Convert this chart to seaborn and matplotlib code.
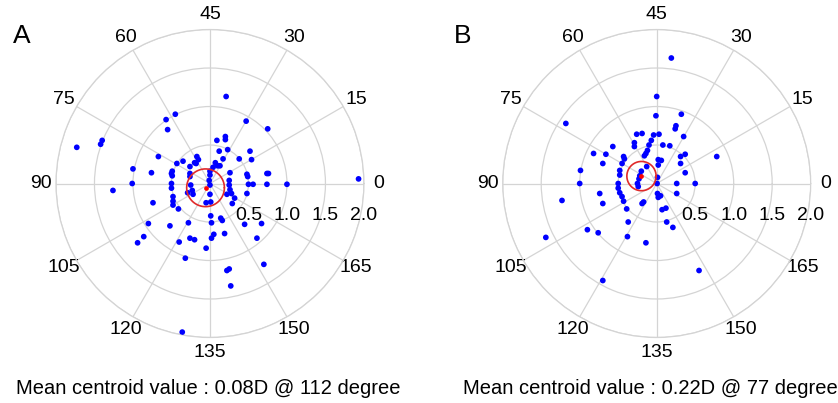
import numpy as np
import pandas as pd
import seaborn as sns
import matplotlib.pyplot as plt

# double-angle vector components in D: x = C*cos(2*axis), y = C*sin(2*axis)
a_x = [0.21, -0.45, -0.57, 0.47, -0.55, 0.75, 0.20, 0.20, 0.09, -1.40,
       -1.42, -1.73, 0.23, 0.12, 0.52, -0.67, -0.17, 0.38, 0.17, 0.54,
       -0.35, -0.20, 0.07, -0.43, -0.18, 0.10, 0.13, -0.26, 0.04, -1.00,
       -0.49, 0.00, -0.76, -0.26, 0.26, 0.74, 0.76, -0.49, 0.00, -0.26,
       0.49, 1.93, -0.01, 0.25, -0.50, -1.01, -0.25, 0.00, 0.25, 0.50,
       0.56, 0.74, 1.00, -0.50, -0.23, 0.26, -1.26, -0.29, 0.28, 0.48,
       -0.22, 0.22, 0.00, -0.48, 0.32, -0.48, 0.01, -0.05, -0.74, 0.29,
       -0.48, -0.41, 0.01, 0.14, 0.16, 0.02, -0.28, -0.80, -0.52, 0.45,
       0.67, 0.19, 0.05, 0.02, -0.86, -0.26, -0.20, 0.61, -0.40, -0.94,
       -0.05, -0.32, 0.70, 0.25, 0.22, 0.27, -0.36, -0.15, -0.50, 0.48]
a_y = [1.13, 0.90, 0.83, 0.81, 0.70, 0.71, 0.61, 0.57, 0.56, 0.56,
       0.51, 0.47, 0.44, 0.42, 0.42, 0.35, 0.35, 0.32, 0.32, 0.31,
       0.29, 0.27, 0.27, 0.26, 0.26, 0.23, 0.23, 0.22, 0.21, 0.19,
       0.16, 0.16, 0.14, 0.13, 0.14, 0.13, 0.13, 0.10, 0.11, 0.09,
       0.09, 0.06, 0.04, 0.04, 0.00, 0.00, -0.02, -0.02, -0.02, -0.01,
       -0.01, -0.01, -0.01, -0.06, -0.09, -0.08, -0.09, -0.12, -0.13, -0.13,
       -0.14, -0.14, -0.14, -0.17, -0.19, -0.23, -0.24, -0.25, -0.25, -0.26,
       -0.28, -0.33, -0.42, -0.45, -0.48, -0.51, -0.51, -0.52, -0.55, -0.53,
       -0.52, -0.65, -0.66, -0.71, -0.69, -0.71, -0.73, -0.71, -0.76, -0.77,
       -0.84, -0.97, -1.05, -1.11, -1.13, -1.33, -1.93, 0.31, 0.13, 0.12]

b_x = [0.19, 0.00, -0.01, 0.32, -1.18, 0.25, 0.24, -0.26, -0.19, 0.35,
       0.03, -0.04, -0.07, -0.29, -0.29, -0.57, -0.10, 0.08, 0.17, -0.82,
       -0.66, -0.12, -0.14, -0.16, -0.43, -0.42, 0.02, 0.06, 0.31, 0.37,
       0.78, -0.70, -0.45, -0.13, -0.20, 0.31, 0.02, -0.99, -0.48, -0.48,
       0.37, -0.22, -0.23, -0.25, -0.24, -0.50, -0.50, -1.00, 0.005, 0.01,
       0.26, 0.50, -0.48, -0.45, -0.43, -0.74, -0.70, 0.01, 0.02, 0.05,
       -0.19, -0.17, 0.26, -1.23, -0.39, 0.07, 0.12, -0.37, 0.13, 0.21,
       -0.90, -0.76, -0.38, -0.14, -1.44, 0.55, -0.70]
b_y = [1.63, 1.13, 0.88, 0.90, 0.78, 0.75, 0.71, 0.64, 0.65, 0.61,
       0.64, 0.63, 0.56, 0.53, 0.48, 0.48, 0.50, 0.50, 0.49, 0.39,
       0.38, 0.43, 0.39, 0.36, 0.35, 0.32, 0.31, 0.30, 0.35, 0.38,
       0.35, 0.26, 0.26, 0.22, 0.16, 0.26, 0.24, 0.17, 0.17, 0.11,
       0.14, 0.10, 0.06, 0.00, -0.04, 0.00, -0.06, 0.00, 0.00, 0.08,
       0.00, 0.00, -0.12, -0.17, -0.23, -0.13, -0.26, -0.13, -0.18, -0.16,
       -0.26, -0.24, -0.13, -0.22, -0.33, -0.34, -0.32, -0.50, -0.50, -0.57,
       -0.60, -0.64, -0.69, -0.77, -0.70, -1.13, -1.26]

a_mean = (0.08, 112)   # D, degree
b_mean = (0.22, 77)
a_ring = 0.245
b_ring = 0.19

axis_labels = ['0', '15', '30', '45', '60', '75', '90', '105', '120', '135', '150', '165']
r_ticks = [0.5, 1.0, 1.5, 2.0]
panel_names = ['A', 'B']
captions = ['Mean centroid value : 0.08D @ 112 degree',
            'Mean centroid value : 0.22D @ 77 degree']


def to_polar(x, y):
    x = np.asarray(x)
    y = np.asarray(y)
    axis = np.degrees(np.arctan2(y, x)) / 2 % 180
    return pd.DataFrame({'theta': np.radians(2 * axis), 'r': np.hypot(x, y)})


def draw_panel(ax, df, mean, ring):
    grid_c = '#d4d4d4'
    sns.scatterplot(data=df, x='theta', y='r', ax=ax, color='#0000ff',
                    s=17, edgecolor='none', linewidth=0, zorder=3)
    # centroid and its circle
    th = np.radians(2 * mean[1])
    cx, cy = mean[0] * np.cos(th), mean[0] * np.sin(th)
    t = np.linspace(0, 2 * np.pi, 200)
    px, py = cx + ring * np.cos(t), cy + ring * np.sin(t)
    ax.plot(np.unwrap(np.arctan2(py, px)), np.hypot(px, py), color='#e02a2a', lw=1.2, zorder=4)
    ax.plot([th], [mean[0]], 'o', color='#ff0000', ms=3.4, mec='none', zorder=5)

    ax.set_ylim(0, 2)
    ax.set_thetagrids(np.arange(0, 360, 30), labels=axis_labels, fontsize=14)
    ax.set_yticks(r_ticks)
    ax.set_yticklabels([])
    ax.tick_params(axis='x', pad=0, colors='black')
    ax.grid(True, color=grid_c, lw=0.9)
    ax.spines['polar'].set_color(grid_c)
    ax.spines['polar'].set_linewidth(0.9)
    ax.set_xlabel('')
    ax.set_ylabel('')
    for r in r_ticks:
        ax.text(np.arctan2(-0.41, r), np.hypot(r, 0.41), f'{r:.1f}',
                ha='center', va='center', fontsize=14, color='black', zorder=6)


sns.set_style('white')
plt.rcParams['font.family'] = ['Liberation Sans', 'DejaVu Sans']
plt.rcParams['text.color'] = 'black'

fig = plt.figure(figsize=(8.38, 4.03), dpi=100)
ax_a = fig.add_axes([0.0668, 0.1625, 0.3675, 0.7643], projection='polar')
ax_b = fig.add_axes([0.5999, 0.1625, 0.3675, 0.7643], projection='polar')

draw_panel(ax_a, to_polar(a_x, a_y), a_mean, a_ring)
draw_panel(ax_b, to_polar(b_x, b_y), b_mean, b_ring)

fig.text(21.5 / 838, 1 - 36 / 403, panel_names[0], fontsize=19, ha='center', va='center')
fig.text(463 / 838, 1 - 36 / 403, panel_names[1], fontsize=19, ha='center', va='center')
fig.text(208 / 838, 1 - 388 / 403, captions[0], fontsize=14.5, ha='center', va='center')
fig.text(650 / 838, 1 - 388 / 403, captions[1], fontsize=14.5, ha='center', va='center')

fig.savefig('out.png', dpi=100)
